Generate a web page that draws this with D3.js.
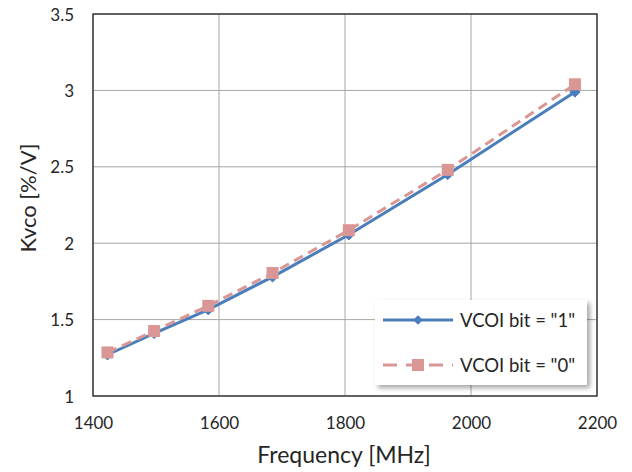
<!DOCTYPE html>
<html>
<head>
<meta charset="utf-8">
<script src="https://cdn.jsdelivr.net/npm/d3@7/dist/d3.min.js"></script>
<style>
  body { margin: 0; background: #fff; }
  text { font-family: Lato, "Open Sans", sans-serif; fill: #262626; }
</style>
</head>
<body>
<div id="chart"></div>
<script>
// datos
var frecuencias = [1423, 1497, 1583, 1685, 1806, 1963, 2165];
var kvcoBit1 = [1.27, 1.41, 1.565, 1.78, 2.055, 2.45, 2.99];
var kvcoBit0 = [1.285, 1.425, 1.59, 1.805, 2.085, 2.48, 3.04];
var xTicks = [1400, 1600, 1800, 2000, 2200];
var yTicks = [1, 1.5, 2, 2.5, 3, 3.5];
var nombres = ['VCOI bit = "1"', 'VCOI bit = "0"'];

var margin = { top: 14, right: 35, bottom: 76, left: 93 },
    width = 632 - margin.left - margin.right,
    height = 472 - margin.top - margin.bottom;

var svg = d3.select("#chart")
    .append("svg")
    .attr("width", 632)
    .attr("height", 472);

var defs = svg.append("defs");
var filtro = defs.append("filter").attr("id", "sombra")
    .attr("x", "-10%").attr("y", "-10%").attr("width", "130%").attr("height", "140%");
filtro.append("feDropShadow")
    .attr("dx", 3).attr("dy", 3).attr("stdDeviation", 2.5)
    .attr("flood-color", "#000").attr("flood-opacity", 0.35);

var g = svg.append("g")
    .attr("transform", "translate(" + margin.left + "," + margin.top + ")");

var x = d3.scaleLinear().domain([1400, 2200]).range([0, width]);
var y = d3.scaleLinear().domain([1, 3.5]).range([height, 0]);

// rejilla
g.selectAll(".gx").data(xTicks).enter().append("line")
    .attr("x1", d => x(d)).attr("x2", d => x(d))
    .attr("y1", 0).attr("y2", height)
    .attr("stroke", "#a6a6a6").attr("stroke-width", 1);
g.selectAll(".gy").data(yTicks).enter().append("line")
    .attr("x1", 0).attr("x2", width)
    .attr("y1", d => y(d)).attr("y2", d => y(d))
    .attr("stroke", "#a6a6a6").attr("stroke-width", 1);

g.append("rect")
    .attr("width", width).attr("height", height)
    .attr("fill", "none").attr("stroke", "#262626").attr("stroke-width", 1.3);

// ejes
var xAxis = d3.axisBottom(x).tickValues(xTicks).tickSize(0).tickPadding(21)
    .tickFormat(d3.format("d"));
var yAxis = d3.axisLeft(y).tickValues(yTicks).tickSize(0).tickPadding(19)
    .tickFormat(d3.format("~g"));

g.append("g").attr("transform", "translate(0," + height + ")").call(xAxis)
    .call(a => a.select(".domain").remove())
    .selectAll("text").style("font-size", "17px").attr("fill", "#404040");
g.append("g").call(yAxis)
    .call(a => a.select(".domain").remove())
    .selectAll("text").style("font-size", "17px").attr("fill", "#404040")
    .attr("dy", "0.36em");

svg.append("text")
    .attr("x", 344).attr("y", 463)
    .attr("text-anchor", "middle")
    .style("font-size", "23px")
    .text("Frequency [MHz]");

svg.append("text")
    .attr("transform", "translate(36,198) rotate(-90)")
    .attr("text-anchor", "middle")
    .style("font-size", "22px")
    .text("Kvco [%/V]");

// series
var linea = d3.line().x(d => x(d[0])).y(d => y(d[1]));
var datos1 = frecuencias.map((f, i) => [f, kvcoBit1[i]]);
var datos0 = frecuencias.map((f, i) => [f, kvcoBit0[i]]);

var azul = "#4a7ebb", rosa = "#d99694";

g.append("path").datum(datos1).attr("d", linea)
    .attr("fill", "none").attr("stroke", azul).attr("stroke-width", 3);
g.selectAll(".p1").data(datos1).enter().append("path")
    .attr("transform", d => "translate(" + x(d[0]) + "," + y(d[1]) + ")")
    .attr("d", d3.symbol().type(d3.symbolDiamond2).size(70))
    .attr("fill", azul).attr("stroke", azul).attr("stroke-width", 1);

g.append("path").datum(datos0).attr("d", linea)
    .attr("fill", "none").attr("stroke", rosa).attr("stroke-width", 3)
    .attr("stroke-dasharray", "10,6");
g.selectAll(".p0").data(datos0).enter().append("rect")
    .attr("x", d => x(d[0]) - 6).attr("y", d => y(d[1]) - 6)
    .attr("width", 12).attr("height", 12)
    .attr("fill", rosa);

// leyenda
var ley = svg.append("g").attr("transform", "translate(375,300)");
ley.append("rect").attr("width", 212).attr("height", 85)
    .attr("fill", "#fff").attr("filter", "url(#sombra)");

var l1 = ley.append("g").attr("transform", "translate(0,20)");
l1.append("line").attr("x1", 8).attr("x2", 78)
    .attr("stroke", azul).attr("stroke-width", 3);
l1.append("path").attr("transform", "translate(43,0)")
    .attr("d", d3.symbol().type(d3.symbolDiamond2).size(60)).attr("fill", azul);
l1.append("text").attr("x", 85).attr("dy", "0.36em")
    .style("font-size", "18.5px").text(nombres[0]);

var l0 = ley.append("g").attr("transform", "translate(0,65)");
l0.append("line").attr("x1", 8).attr("x2", 78)
    .attr("stroke", rosa).attr("stroke-width", 3)
    .attr("stroke-dasharray", "14,9");
l0.append("rect").attr("x", 37).attr("y", -6).attr("width", 12).attr("height", 12)
    .attr("fill", rosa);
l0.append("text").attr("x", 85).attr("dy", "0.36em")
    .style("font-size", "18.5px").text(nombres[1]);
</script>
</body>
</html>
